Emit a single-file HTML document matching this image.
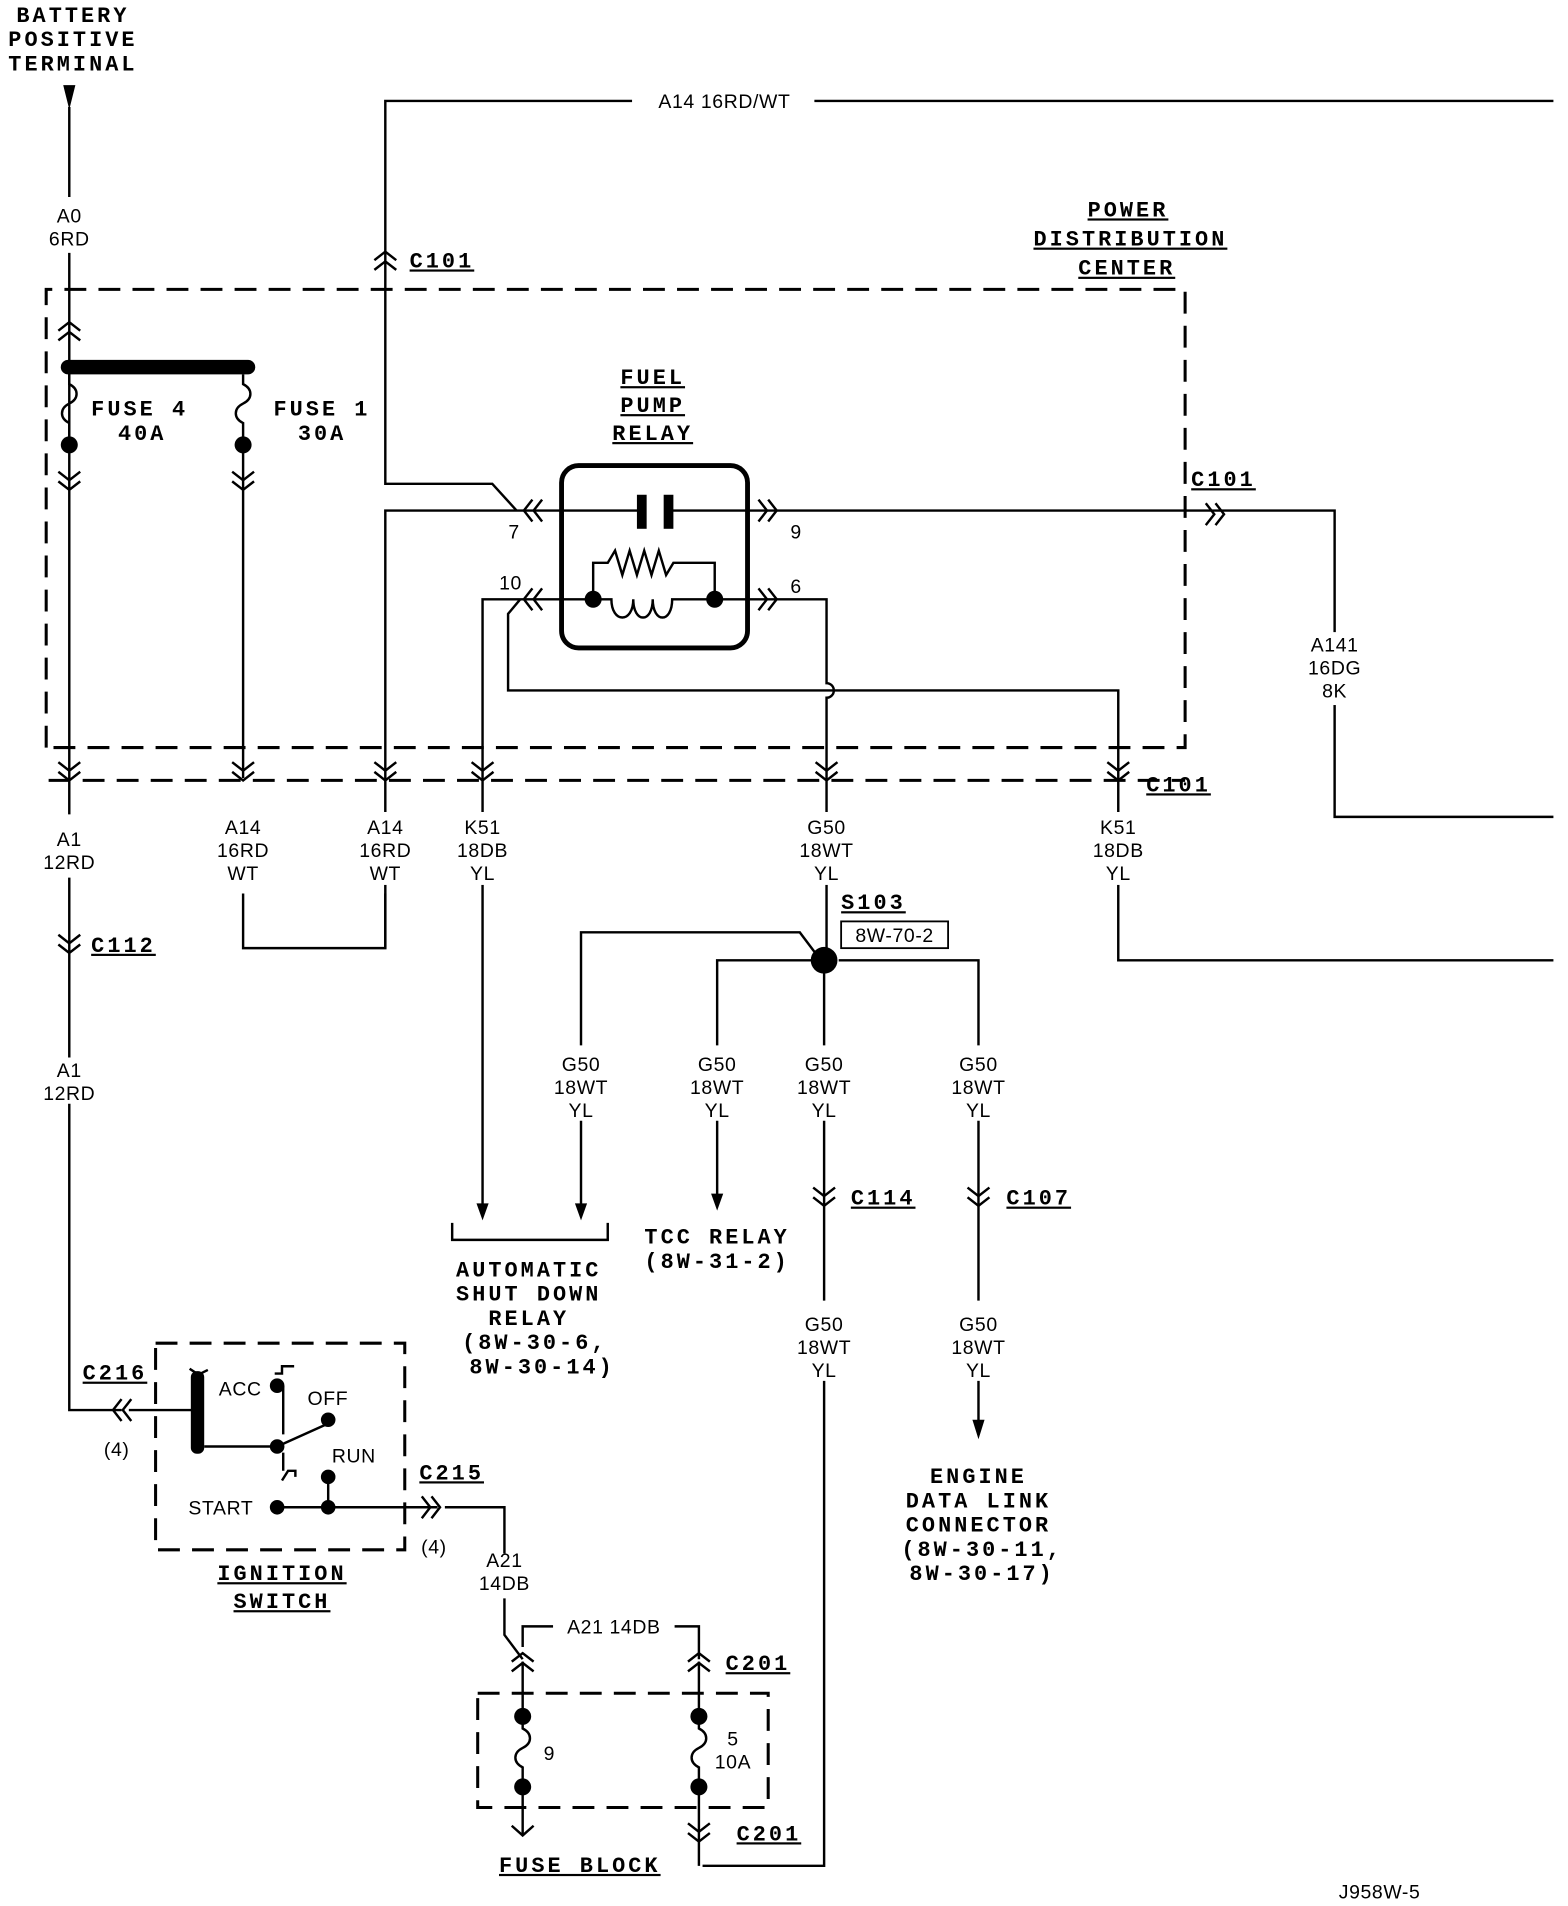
<!DOCTYPE html>
<html><head><meta charset="utf-8"><style>
html,body{margin:0;padding:0;background:#fff;}
svg{display:block;}
.w{stroke:#000;stroke-width:2;fill:none;}
.d{stroke:#000;stroke-width:2.5;fill:none;stroke-dasharray:18,10;}
.b{font-family:"Liberation Mono",monospace;font-weight:bold;font-size:18px;fill:#000;text-anchor:middle;letter-spacing:2.5px;}
.r{font-family:"Liberation Sans Narrow","Liberation Sans",sans-serif;font-size:16px;fill:#000;text-anchor:middle;letter-spacing:0.5px;}
.l{text-anchor:start;}
</style></head><body>
<svg width="1568" height="1906" viewBox="0 0 1290 1568" xmlns="http://www.w3.org/2000/svg">
<defs>
<path id="cd" d="M-9,-8 L0,-1 L9,-8 M-9,0 L0,7 L9,0" stroke="#000" stroke-width="2" fill="none"/>
<path id="cu" d="M-9,8 L0,1 L9,8 M-9,0 L0,-7 L9,0" stroke="#000" stroke-width="2" fill="none"/>
<path id="cl" d="M8,-9 L1,0 L8,9 M0,-9 L-7,0 L0,9" stroke="#000" stroke-width="2" fill="none"/>
<path id="cr" d="M-8,-9 L-1,0 L-8,9 M0,-9 L7,0 L0,9" stroke="#000" stroke-width="2" fill="none"/>
</defs>

<!-- Battery -->
<text class="b" x="60" y="18">BATTERY</text>
<text class="b" x="60" y="38">POSITIVE</text>
<text class="b" x="60" y="58">TERMINAL</text>
<path d="M52,70 L62,70 L57,90 Z" fill="#000"/>
<path class="w" d="M57,88 V162"/>
<text class="r" x="57" y="183">A0</text>
<text class="r" x="57" y="202">6RD</text>
<path class="w" d="M57,208 V640"/>

<!-- PDC box -->
<path class="d" d="M38,615 V238 H975 V615 H38"/>
<path class="d" d="M40,642 H975"/>
<text class="b" x="928" y="178" text-decoration="underline">POWER</text>
<text class="b" x="930" y="202" text-decoration="underline">DISTRIBUTION</text>
<text class="b" x="927" y="226" text-decoration="underline">CENTER</text>

<use href="#cu" x="57" y="272"/>
<rect x="50" y="296" width="160" height="12" rx="6" fill="#000"/>
<path class="w" d="M57,308 V316 c8,4 8,12 0,16 c-8,4 -8,12 0,16 V360"/>
<circle cx="57" cy="366" r="7" fill="#000"/>
<use href="#cd" x="57" y="396"/>
<path class="w" d="M200,308 V316 c8,4 8,12 0,16 c-8,4 -8,12 0,16 V360 M200,366 V640"/>
<circle cx="200" cy="366" r="7" fill="#000"/>
<use href="#cd" x="200" y="396"/>
<text class="b l" x="75" y="342">FUSE 4</text>
<text class="b" x="117" y="362">40A</text>
<text class="b l" x="225" y="342">FUSE 1</text>
<text class="b" x="265" y="362">30A</text>

<!-- top wire -->
<path class="w" d="M520,83 H317 V398 H405 L425,420 M670,83 H1278"/>
<text class="r" x="596" y="89">A14 16RD/WT</text>
<use href="#cu" x="317" y="214"/>
<text class="b l" x="337" y="220" text-decoration="underline">C101</text>

<!-- relay -->
<text class="b" x="537" y="316" text-decoration="underline">FUEL</text>
<text class="b" x="537" y="339" text-decoration="underline">PUMP</text>
<text class="b" x="537" y="362" text-decoration="underline">RELAY</text>
<rect x="462" y="383" width="153" height="150" rx="14" stroke="#000" stroke-width="4" fill="none"/>
<path class="w" d="M317,780 V420 H528 M552,420 H1098 V672 H1278"/>
<rect x="524" y="407" width="8" height="28" fill="#000"/>
<rect x="546" y="407" width="8" height="28" fill="#000"/>
<use href="#cl" x="438" y="420"/>
<use href="#cr" x="632" y="420"/>
<use href="#cr" x="1000" y="423"/>
<text class="r" x="423" y="443">7</text>
<text class="r" x="655" y="443">9</text>
<text class="b l" x="980" y="400" text-decoration="underline">C101</text>
<rect x="1085" y="520" width="26" height="60" fill="#fff"/>
<text class="r" x="1098" y="536">A141</text>
<text class="r" x="1098" y="555">16DG</text>
<text class="r" x="1098" y="574">8K</text>

<!-- pin 10/6 row -->
<path class="w" d="M397,1000 V493 H488 M488,493 V463 H500 l6,-10 l6,20 l6,-20 l6,20 l6,-20 l6,20 l6,-20 l6,20 l6,-10 H588 V493"/>
<path class="w" d="M488,493 H503 c0,20 18,20 18,0 c0,20 16,20 16,0 c0,20 16,20 16,0 H588 H680 V562 a5,5 0 0 1 0,12 V790"/>
<circle cx="488" cy="493" r="7" fill="#000"/>
<circle cx="588" cy="493" r="7" fill="#000"/>
<use href="#cl" x="438" y="493"/>
<use href="#cr" x="632" y="493"/>
<text class="r" x="420" y="485">10</text>
<text class="r" x="655" y="488">6</text>
<path class="w" d="M428,493 L418,505 V568 H920 V790 H1278"/>

<!-- bottom connectors of PDC -->
<use href="#cd" x="57" y="635"/>
<use href="#cd" x="200" y="635"/>
<use href="#cd" x="317" y="635"/>
<use href="#cd" x="397" y="635"/>
<use href="#cd" x="680" y="635"/>
<use href="#cd" x="920" y="635"/>
<text class="b l" x="943" y="651" text-decoration="underline">C101</text>

<g>
<rect x="30" y="668" width="920" height="60" fill="#fff"/>
<text class="r" x="57" y="696">A1</text><text class="r" x="57" y="715">12RD</text>
<text class="r" x="200" y="686">A14</text><text class="r" x="200" y="705">16RD</text><text class="r" x="200" y="724">WT</text>
<text class="r" x="317" y="686">A14</text><text class="r" x="317" y="705">16RD</text><text class="r" x="317" y="724">WT</text>
<text class="r" x="397" y="686">K51</text><text class="r" x="397" y="705">18DB</text><text class="r" x="397" y="724">YL</text>
<text class="r" x="680" y="686">G50</text><text class="r" x="680" y="705">18WT</text><text class="r" x="680" y="724">YL</text>
<text class="r" x="920" y="686">K51</text><text class="r" x="920" y="705">18DB</text><text class="r" x="920" y="724">YL</text>
</g>
<path class="w" d="M200,735 V780 H317 V735 M57,640 V670 M57,722 V870 M57,908 V1160 H100 M106,1160 H162"/>
<use href="#cd" x="57" y="777"/>
<text class="b l" x="75" y="783" text-decoration="underline">C112</text>
<text class="r" x="57" y="886">A1</text><text class="r" x="57" y="905">12RD</text>

<!-- S103 -->
<circle cx="678" cy="790" r="11" fill="#000"/>
<text class="b l" x="692" y="748" text-decoration="underline">S103</text>
<rect x="692" y="758" width="88" height="22" stroke="#000" stroke-width="1.5" fill="none"/>
<text class="r" x="736" y="775">8W-70-2</text>
<path class="w" d="M670,783 L658,767 H478 V860 M478,922 V1000 M670,790 H590 V860 M590,922 V990 M678,800 V860 M678,922 V1070 M678,1136 V1535 H578 M690,790 H805 V860 M805,922 V1070 M805,1136 V1180"/>
<path d="M392,990 L402,990 L397,1004 Z M473,990 L483,990 L478,1004 Z M585,982 L595,982 L590,996 Z M800,1168 L810,1168 L805,1184 Z" fill="#000"/>
<text class="r" x="478" y="881">G50</text><text class="r" x="478" y="900">18WT</text><text class="r" x="478" y="919">YL</text>
<text class="r" x="590" y="881">G50</text><text class="r" x="590" y="900">18WT</text><text class="r" x="590" y="919">YL</text>
<text class="r" x="678" y="881">G50</text><text class="r" x="678" y="900">18WT</text><text class="r" x="678" y="919">YL</text>
<text class="r" x="805" y="881">G50</text><text class="r" x="805" y="900">18WT</text><text class="r" x="805" y="919">YL</text>
<use href="#cd" x="678" y="985"/><use href="#cd" x="805" y="985"/>
<text class="b l" x="700" y="991" text-decoration="underline">C114</text>
<text class="b l" x="828" y="991" text-decoration="underline">C107</text>
<text class="r" x="678" y="1095">G50</text><text class="r" x="678" y="1114">18WT</text><text class="r" x="678" y="1133">YL</text>
<text class="r" x="805" y="1095">G50</text><text class="r" x="805" y="1114">18WT</text><text class="r" x="805" y="1133">YL</text>

<path class="w" d="M372,1006 V1020 H500 V1006"/>
<text class="b" x="435" y="1050">AUTOMATIC</text>
<text class="b" x="435" y="1070">SHUT DOWN</text>
<text class="b" x="435" y="1090">RELAY</text>
<text class="b" x="440" y="1110">(8W-30-6,</text>
<text class="b" x="446" y="1130">8W-30-14)</text>
<text class="b" x="590" y="1023">TCC RELAY</text>
<text class="b" x="590" y="1043">(8W-31-2)</text>
<text class="b" x="805" y="1220">ENGINE</text>
<text class="b" x="805" y="1240">DATA LINK</text>
<text class="b" x="805" y="1260">CONNECTOR</text>
<text class="b" x="808" y="1280">(8W-30-11,</text>
<text class="b" x="808" y="1300">8W-30-17)</text>

<!-- Ignition switch -->
<path class="d" d="M128,1105 H333 V1275 H128 Z" stroke-dasharray="14,9"/>
<use href="#cl" x="100" y="1160"/>
<text class="b l" x="68" y="1135" text-decoration="underline">C216</text>
<text class="r" x="96" y="1198">(4)</text>
<rect x="157" y="1128" width="11" height="68" rx="5" fill="#000"/>
<path class="w" d="M162,1130 l-6,-4 M165,1130 l6,-3 M168,1190 H228 L268,1172 M233,1140 V1180 M226,1130 h6 v-6 h10 M233,1195 V1210 M232,1218 l5,-8 h6 v5 M270,1215 V1240 M228,1240 H360 M366,1240 H415 V1278 M415,1315 V1345 L430,1365 M430,1355 V1338 H455 M555,1338 H575 V1365"/>
<circle cx="228" cy="1140" r="6" fill="#000"/>
<circle cx="228" cy="1190" r="6" fill="#000"/>
<circle cx="270" cy="1168" r="6" fill="#000"/>
<circle cx="270" cy="1215" r="6" fill="#000"/>
<circle cx="228" cy="1240" r="6" fill="#000"/>
<circle cx="270" cy="1240" r="6" fill="#000"/>
<text class="r l" x="180" y="1148">ACC</text>
<text class="r l" x="253" y="1156">OFF</text>
<text class="r l" x="273" y="1203">RUN</text>
<text class="r l" x="155" y="1246">START</text>
<use href="#cr" x="355" y="1240"/>
<text class="b l" x="345" y="1217" text-decoration="underline">C215</text>
<text class="r" x="357" y="1278">(4)</text>
<text class="b" x="232" y="1300" text-decoration="underline">IGNITION</text>
<text class="b" x="232" y="1323" text-decoration="underline">SWITCH</text>
<text class="r" x="415" y="1289">A21</text><text class="r" x="415" y="1308">14DB</text>
<text class="r" x="505" y="1344">A21 14DB</text>

<!-- Fuse block -->
<path class="d" d="M393,1393 H632 V1487 H393 Z" stroke-dasharray="14,9"/>
<use href="#cu" x="430" y="1367"/><use href="#cu" x="575" y="1367"/>
<text class="b l" x="597" y="1374" text-decoration="underline">C201</text>
<path class="w" d="M430,1367 V1412 V1422 c8,4 8,12 0,16 c-8,4 -8,12 0,16 V1470 V1510 M575,1367 V1412 V1422 c8,4 8,12 0,16 c-8,4 -8,12 0,16 V1470 V1535"/>
<circle cx="430" cy="1412" r="7" fill="#000"/><circle cx="430" cy="1470" r="7" fill="#000"/>
<circle cx="575" cy="1412" r="7" fill="#000"/><circle cx="575" cy="1470" r="7" fill="#000"/>
<text class="r" x="452" y="1448">9</text>
<text class="r" x="603" y="1436">5</text><text class="r" x="603" y="1455">10A</text>
<path class="w" d="M421,1502 L430,1510 L439,1502"/>
<use href="#cd" x="575" y="1508"/>
<text class="b l" x="606" y="1514" text-decoration="underline">C201</text>
<text class="b" x="477" y="1540" text-decoration="underline">FUSE BLOCK</text>
<text class="r" x="1135" y="1562">J958W-5</text>
</svg>
</body></html>
